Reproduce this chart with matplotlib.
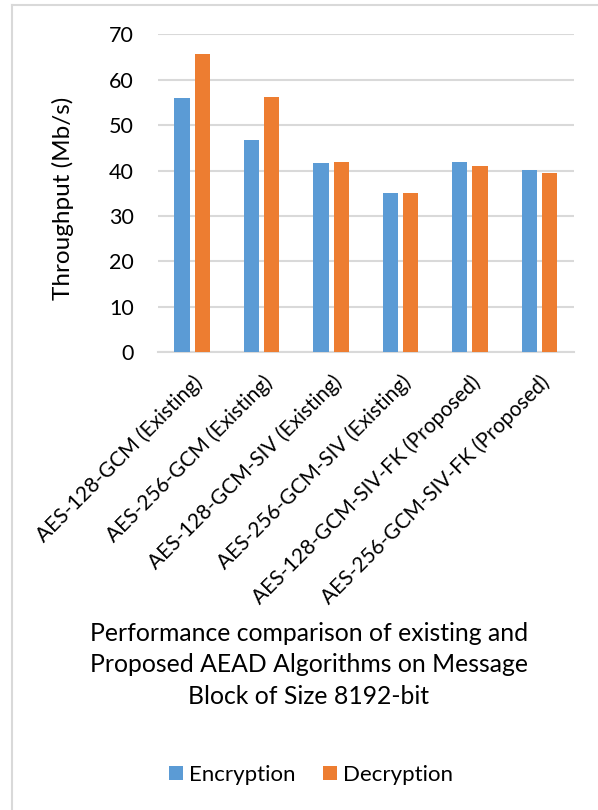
import matplotlib
matplotlib.use("Agg")
import matplotlib.pyplot as plt
import matplotlib.transforms as mtransforms
from matplotlib.lines import Line2D
from matplotlib.patches import Patch
import numpy as np

plt.rcParams['font.family'] = ['Lato', 'DejaVu Sans']

categories = [
    "AES-128-GCM (Existing)",
    "AES-256-GCM (Existing)",
    "AES-128-GCM-SIV (Existing)",
    "AES-256-GCM-SIV (Existing)",
    "AES-128-GCM-SIV-FK (Proposed)",
    "AES-256-GCM-SIV-FK (Proposed)",
]
encryption = [56.0, 46.7, 41.7, 35.0, 42.0, 40.1]
decryption = [65.6, 56.3, 42.0, 35.1, 41.0, 39.5]
yticks = [0, 10, 20, 30, 40, 50, 60, 70]

title = ("Performance comparison of existing and\n"
         "Proposed AEAD Algorithms on Message\n"
         "Block of Size 8192-bit")

BLUE = "#5B9BD5"
ORANGE = "#ED7D31"
GRID = "#D9D9D9"
TEXT = "#000000"

W, H = 598, 810
fig = plt.figure(figsize=(W / 100, H / 100), dpi=100)
fig.patch.set_facecolor("white")

# chart frame (top and left edges)
fig.add_artist(Line2D([11.5 / W, 1.0], [1 - 5 / H, 1 - 5 / H], transform=fig.transFigure,
                      color="#D9D9D9", lw=1.5))
fig.add_artist(Line2D([11.5 / W, 11.5 / W], [0, 1 - 5 / H], transform=fig.transFigure,
                      color="#D9D9D9", lw=1.5))

ax = fig.add_axes([157.5 / W, 1 - 352.3 / H, (574 - 157.5) / W, (352.3 - 34.3) / H])

x = np.arange(len(categories))
bw = 0.22
off = 0.146
ax.bar(x - off, encryption, width=bw, color=BLUE, zorder=3, label="Encryption")
ax.bar(x + off, decryption, width=bw, color=ORANGE, zorder=3, label="Decryption")

ax.set_xlim(-0.5, len(categories) - 0.5)
ax.set_ylim(0, 70)
ax.set_yticks(yticks)
ax.yaxis.grid(True, color=GRID, lw=1.5, zorder=0)
for s in ["top", "right", "left"]:
    ax.spines[s].set_visible(False)
ax.spines["bottom"].set_color(GRID)
ax.spines["bottom"].set_linewidth(1.5)
ax.tick_params(axis="both", length=0, colors=TEXT)
ax.tick_params(axis="y", pad=17, labelsize=15.5)

ax.set_xticks(x)
ax.set_xticklabels(categories, rotation=45, ha="right", va="top",
                   rotation_mode="anchor", fontsize=15)
shift = mtransforms.ScaledTranslation(3 / 100, 0, fig.dpi_scale_trans)
for lab in ax.get_xticklabels():
    lab.set_transform(lab.get_transform() + shift)
ax.tick_params(axis="x", pad=14)

fig.text(63 / W, 1 - 198 / H, "Throughput (Mb/s)", rotation=90,
         ha="center", va="center", fontsize=17.5, color=TEXT)

fig.text(309 / W, 1 - 665 / H, title, ha="center", va="center",
         fontsize=17.8, color=TEXT, linespacing=1.46)

handles = [Patch(facecolor=BLUE, label="Encryption"),
           Patch(facecolor=ORANGE, label="Decryption")]
fig.legend(handles=handles, loc="center", bbox_to_anchor=(311 / W, 1 - 775 / H),
           ncol=2, frameon=False, fontsize=16, handlelength=0.63, handleheight=0.63,
           handletextpad=0.31, columnspacing=1.2)

fig.savefig("out.png", dpi=100, facecolor="white")
